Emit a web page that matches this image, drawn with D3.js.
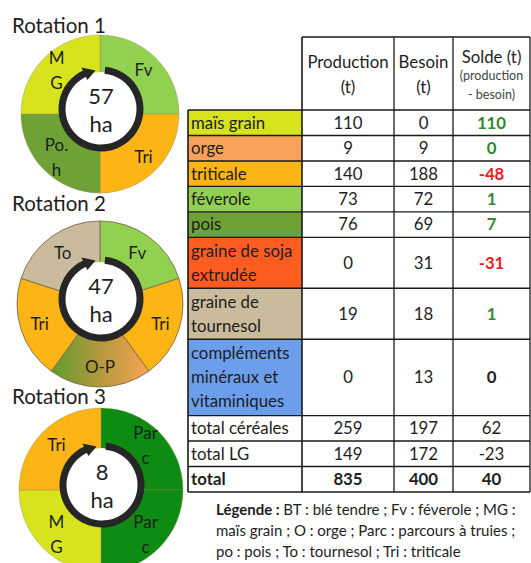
<!DOCTYPE html>
<meta charset="utf-8">
<style>
body,html{
  margin: 0;
  padding: 0;
  background: #fff;
}
svg{
  display: block;
  font-family: Lato, "Open Sans", sans-serif;
}
</style>
<svg width="531" height="563"></svg>
<script src="https://d3js.org/d3.v7.min.js"></script>
<script>

// --- rotations (crops clockwise from 12 o'clock, "|" = line break)
var rotationTitles = ["Rotation 1", "Rotation 2", "Rotation 3"];
var rotationAreas = [57, 47, 8];
var rotation1 = ["Fv", "Tri", "Po.|h", "M|G"];
var rotation2 = ["Fv", "Tri", "O-P", "Tri", "To"];
var rotation3 = ["Par|c", "Par|c", "M|G", "Tri"];
var cropColors = {
  "Fv": "#92d050", "Tri": "#fdb515", "Po.|h": "#6fa136", "M|G": "#d6e31d",
  "To": "#cbbb9d", "O-P": "url(#opGrad)", "Par|c": "#0e8b12"
};

// --- balance table
var feedItems = ["maïs grain", "orge", "triticale", "féverole", "pois",
  "graine de soja|extrudée", "graine de|tournesol", "compléments|minéraux et|vitaminiques",
  "total céréales", "total LG", "total"];
var itemColors = ["#d6e31d", "#f8a15a", "#fdb515", "#92d050", "#6fa136",
  "#ff5c22", "#cbbb9d", "#6d9eeb", "#fff", "#fff", "#fff"];
var production = [110, 9, 140, 73, 76, 0, 19, 0, 259, 149, 835];
var besoin = [0, 9, 188, 72, 69, 31, 18, 13, 197, 172, 400];
var solde = [110, 0, -48, 1, 7, -31, 1, 0, 62, -23, 40];
var headers = [["Production", "(t)"], ["Besoin", "(t)"], ["Solde (t)", "(production", "- besoin)"]];

var svg = d3.select("svg");
var ink = "#1e1e1e";
var fs = 16.8;

var defs = svg.append("defs");
var g = defs.append("linearGradient").attr("id", "opGrad")
g.append("stop").attr("offset", "0%").attr("stop-color", "#5f9b2c");
g.append("stop").attr("offset", "50%").attr("stop-color", "#b39a3c");
g.append("stop").attr("offset", "100%").attr("stop-color", "#f7a353");

// ---------- rotation wheels
var wheels = [
  {cx: 100, cy: 114, r: 79, ty: 33},
  {cx: 100, cy: 304, r: 83, ty: 211},
  {cx: 101, cy: 490, r: 82, ty: 404}
];
var rotations = [rotation1, rotation2, rotation3];
var pie = d3.pie().value(1).sort(null);

rotations.forEach(function(crops, i) {
  var w = wheels[i];
  svg.append("text")
    .attr("x", 12).attr("y", w.ty)
    .attr("font-size", 20.5).attr("fill", ink)
    .text(rotationTitles[i]);

  var grp = svg.append("g").attr("transform", "translate(" + w.cx + "," + w.cy + ")");
  var arc = d3.arc().innerRadius(0).outerRadius(w.r);
  var labelArc = d3.arc().innerRadius(44).outerRadius(w.r);
  var arcs = pie(crops);

  grp.selectAll("path.seg").data(arcs).enter().append("path")
    .attr("class", "seg")
    .attr("d", arc)
    .attr("fill", function(d) { return cropColors[d.data]; })
    .attr("stroke", i == 1 ? "#7d6d50" : "#8a8a50")
    .attr("stroke-width", i == 1 ? 0.9 : 0.4);

  grp.selectAll("text.lab").data(arcs).enter().append("text")
    .attr("class", "lab")
    .attr("font-size", 17).attr("fill", ink)
    .attr("text-anchor", "middle")
    .each(function(d) {
      var c = labelArc.centroid(d);
      var parts = d.data.split("|");
      var t = d3.select(this);
      parts.forEach(function(p, k) {
        t.append("tspan")
          .attr("x", c[0])
          .attr("y", c[1] + (k - (parts.length - 1) / 2) * 25)
          .attr("dy", "0.35em")
          .text(p);
      });
    });

  // centre: white disc + circular arrow
  var hub = grp.append("g").attr("transform", "translate(1,-5)");
  hub.append("circle").attr("r", 37).attr("fill", "#fff");
  hub.append("path")
    .attr("d", d3.arc().innerRadius(35.5).outerRadius(42.5)
      .startAngle(0.1).endAngle(2 * Math.PI - 0.42)())
    .attr("fill", "#262626");
  var a0 = -0.44, a1 = -0.14;
  var head = [d3.pointRadial(a0, 32), d3.pointRadial(a1, 39), d3.pointRadial(a0, 46)];
  hub.append("path")
    .attr("d", "M" + head.join("L") + "Z")
    .attr("fill", "#262626");
  hub.append("text").attr("text-anchor", "middle").attr("y", -13).attr("dy", "0.35em")
    .attr("font-size", 22).attr("fill", ink).text(rotationAreas[i]);
  hub.append("text").attr("text-anchor", "middle").attr("y", 15).attr("dy", "0.35em")
    .attr("font-size", 22).attr("fill", ink).text("ha");
});

// ---------- table
var colX = [188, 302, 394, 453, 530];
var headTop = 37, headBottom = 110;
var itemLines = feedItems.map(function(d) { return d.split("|").length; });
var starts = [0].concat(Array.from(d3.cumsum(itemLines)));
var y = d3.scaleLinear().domain([0, d3.sum(itemLines)]).range([headBottom, 492]);

var table = svg.append("g");

// label cell fills
table.selectAll("rect.cell").data(feedItems).enter().append("rect")
  .attr("class", "cell")
  .attr("x", colX[0]).attr("width", colX[1] - colX[0])
  .attr("y", function(d, i) { return y(starts[i]); })
  .attr("height", function(d, i) { return y(starts[i + 1]) - y(starts[i]); })
  .attr("fill", function(d, i) { return itemColors[i]; });

// grid
var gridColor = "#1a1a1a";
starts.forEach(function(s) {
  table.append("line")
    .attr("x1", colX[0]).attr("x2", colX[4])
    .attr("y1", y(s)).attr("y2", y(s))
    .attr("stroke", gridColor).attr("stroke-width", 1.4);
});
table.append("line")
  .attr("x1", colX[1]).attr("x2", colX[4])
  .attr("y1", headTop).attr("y2", headTop)
  .attr("stroke", gridColor).attr("stroke-width", 1.6);
colX.forEach(function(x, k) {
  table.append("line")
    .attr("x1", x).attr("x2", x)
    .attr("y1", k == 0 ? headBottom : headTop).attr("y2", y(starts[starts.length - 1]))
    .attr("stroke", gridColor).attr("stroke-width", k == 0 || k == 1 ? 1.6 : 1.3);
});

// header text
headers.forEach(function(lines, k) {
  var cx = (colX[k + 1] + colX[k + 2]) / 2;
  var ys = lines.length == 2 ? [62, 87] : [57, 76, 95];
  lines.forEach(function(l, j) {
    table.append("text")
      .attr("x", cx).attr("y", ys[j]).attr("dy", "0.35em")
      .attr("text-anchor", "middle")
      .attr("font-size", lines.length == 3 && j > 0 ? 12.5 : fs)
      .attr("fill", lines.length == 3 && j > 0 ? "#444" : ink)
      .text(l);
  });
});

// row labels
feedItems.forEach(function(item, i) {
  var parts = item.split("|");
  var mid = (y(starts[i]) + y(starts[i + 1])) / 2;
  var t = table.append("text")
    .attr("font-size", fs).attr("fill", ink)
    .attr("font-weight", i == feedItems.length - 1 ? "bold" : "normal");
  parts.forEach(function(p, k) {
    t.append("tspan")
      .attr("x", colX[0] + 3)
      .attr("y", mid + (k - (parts.length - 1) / 2) * 24)
      .attr("dy", "0.35em")
      .text(p);
  });
});

// numbers
function soldeColor(v, i) {
  if (i >= 7) return ink;
  return v < 0 ? "#ee1c1c" : "#2f8a2f";
}
[production, besoin, solde].forEach(function(col, k) {
  var cx = (colX[k + 1] + colX[k + 2]) / 2;
  table.selectAll(null).data(col).enter().append("text")
    .attr("x", cx)
    .attr("y", function(d, i) { return (y(starts[i]) + y(starts[i + 1])) / 2; })
    .attr("dy", "0.35em")
    .attr("text-anchor", "middle")
    .attr("font-size", fs)
    .attr("font-weight", function(d, i) {
      return i == col.length - 1 || (k == 2 && i < 8) ? "bold" : "normal";
    })
    .attr("fill", function(d, i) { return k == 2 ? soldeColor(d, i) : ink; })
    .text(function(d) { return d; });
});

// legend
var legendLines = [
  [["Légende : ", true], ["BT : blé tendre ; Fv : féverole ; MG :", false]],
  [["maïs grain ; O : orge ; Parc : parcours à truies ;", false]],
  [["po : pois ; To : tournesol ; Tri : triticale", false]]
];
legendLines.forEach(function(line, j) {
  var t = svg.append("text")
    .attr("x", 216).attr("y", 515 + j * 21)
    .attr("font-size", 15).attr("fill", ink);
  line.forEach(function(p) {
    t.append("tspan").attr("font-weight", p[1] ? "bold" : "normal").text(p[0]);
  });
});

</script>
